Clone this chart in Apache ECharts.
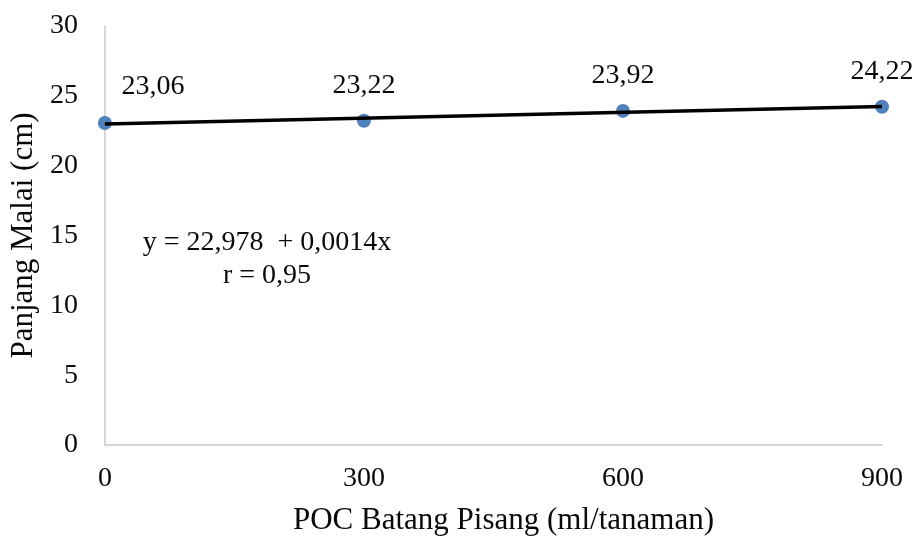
<!DOCTYPE html>
<html><head><meta charset="utf-8">
<script src="https://cdn.jsdelivr.net/npm/echarts@6/dist/echarts.min.js"></script>
<style>html,body{margin:0;padding:0;background:#fff}#c{width:916px;height:541px}</style>
</head><body><div id="c"></div>
<script>
const xValues = [0, 300, 600, 900];
const yValues = [23.06, 23.22, 23.92, 24.22];
const labels = ['23,06', '23,22', '23,92', '24,22'];
const trendX = [0, 900];
const trendY = [22.978, 24.238];
const xTicks = [0, 300, 600, 900];
const equationLines = ['y = 22,978  + 0,0014x', 'r = 0,95'];

const font = '"Liberation Serif", "Times New Roman", serif';
const txt = '#0a0a0a';
const chart = echarts.init(document.getElementById('c'));
chart.setOption({
  animation: false,
  textStyle: { fontFamily: font },
  grid: { left: 103, right: 34, top: 26, bottom: 93 },
  xAxis: {
    type: 'value', min: 0, max: 900, interval: 300,
    name: 'POC Batang Pisang (ml/tanaman)', nameLocation: 'middle', nameGap: 60,
    nameTextStyle: { fontFamily: font, fontSize: 31, color: txt, padding: [0, 0, 0, 20] },
    axisLine: { lineStyle: { color: '#c8c8c8', width: 1.5 } },
    axisTick: { show: false },
    splitLine: { show: false },
    axisLabel: { fontFamily: font, fontSize: 28, color: txt, margin: 20,
      formatter: v => xTicks.includes(v) ? String(v) : '' }
  },
  yAxis: {
    type: 'value', min: 0, max: 30, interval: 5,
    name: 'Panjang Malai (cm)', nameLocation: 'middle', nameGap: 65,
    nameTextStyle: { fontFamily: font, fontSize: 31, color: txt },
    axisLine: { show: true, lineStyle: { color: '#c8c8c8', width: 1.5 } },
    axisTick: { show: false },
    splitLine: { show: false },
    axisLabel: { fontFamily: font, fontSize: 28, color: txt, margin: 27 }
  },
  series: [
    {
      type: 'line',
      data: trendX.map((x, i) => [x, trendY[i]]),
      symbol: 'none',
      lineStyle: { color: '#000', width: 3.5 },
      z: 3
    },
    {
      type: 'scatter',
      data: xValues.map((x, i) => ({
        value: [x, yValues[i]],
        label: { offset: i === 0 ? [48, -36] : [0, -35] }
      })),
      symbolSize: 14,
      itemStyle: { color: '#4f81bd', opacity: 1 },
      label: {
        show: true, position: 'inside',
        fontFamily: font, fontSize: 28, color: txt, opacity: 1,
        textBorderWidth: 0, textBorderColor: 'transparent',
        formatter: p => labels[p.dataIndex]
      },
      z: 2
    }
  ],
  graphic: [
    { type: 'text', x: 267, y: 243, style: { text: equationLines[0], font: '28px ' + font, fill: txt, align: 'center', verticalAlign: 'middle' } },
    { type: 'text', x: 267, y: 276, style: { text: equationLines[1], font: '28px ' + font, fill: txt, align: 'center', verticalAlign: 'middle' } }
  ]
});
</script></body></html>
